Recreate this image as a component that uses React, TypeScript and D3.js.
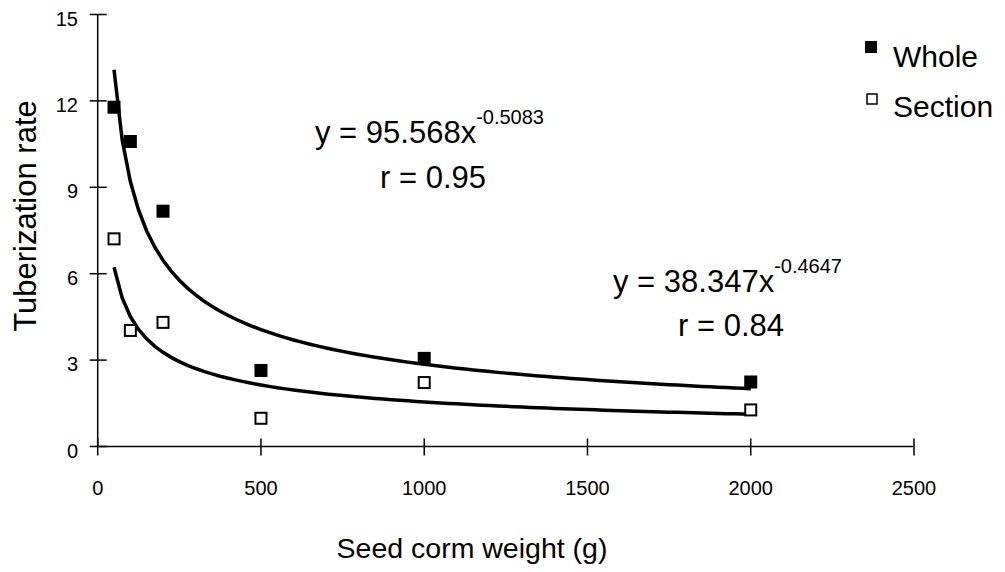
import React, { useEffect, useRef } from 'react';
import * as d3 from 'd3';

// measured points
const weights = [50, 100, 200, 500, 1000, 2000];
const wholeRate = [11.78, 10.59, 8.17, 2.64, 3.06, 2.24];
const sectionRate = [7.21, 4.03, 4.31, 0.98, 2.22, 1.27];

// power trendlines y = a * x^b, as printed on the chart
const wholeFit = { a: 95.568, b: -0.5083, r: '0.95' };
const sectionFit = { a: 38.347, b: -0.4647, r: '0.84' };

const xTicks = [0, 500, 1000, 1500, 2000, 2500];
const yTicks = [0, 3, 6, 9, 12, 15];

const FONT = '"Liberation Sans", Arial, sans-serif';

export default function App() {
  const ref = useRef<SVGSVGElement>(null);

  useEffect(() => {
    if (!ref.current) return;
    const svg = d3.select(ref.current);
    svg.selectAll('*').remove();

    const x = d3.scaleLinear().domain([0, 2500]).range([97.7, 914]);
    const y = d3.scaleLinear().domain([0, 15]).range([446.5, 14.5]);

    // axes
    svg.append('line')
      .attr('x1', x(0)).attr('x2', x(0))
      .attr('y1', y(15)).attr('y2', y(0))
      .attr('stroke', '#000').attr('stroke-width', 1.5);
    svg.append('line')
      .attr('x1', x(0)).attr('x2', x(2500))
      .attr('y1', y(0)).attr('y2', y(0))
      .attr('stroke', '#000').attr('stroke-width', 1.5);

    yTicks.forEach(t => {
      svg.append('line')
        .attr('x1', x(0) - 8).attr('x2', x(0) + 9)
        .attr('y1', y(t)).attr('y2', y(t))
        .attr('stroke', '#000').attr('stroke-width', 1.5);
      svg.append('text')
        .attr('x', 78).attr('y', y(t) + 11)
        .attr('text-anchor', 'end')
        .attr('font-family', FONT).attr('font-size', 20)
        .text(t);
    });

    xTicks.forEach(t => {
      svg.append('line')
        .attr('x1', x(t)).attr('x2', x(t))
        .attr('y1', y(0) - 8).attr('y2', y(0) + 9)
        .attr('stroke', '#000').attr('stroke-width', 1.5);
      svg.append('text')
        .attr('x', x(t)).attr('y', 495)
        .attr('text-anchor', 'middle')
        .attr('font-family', FONT).attr('font-size', 20)
        .text(t);
    });

    // axis titles
    svg.append('text')
      .attr('transform', `translate(36,216) rotate(-90)`)
      .attr('text-anchor', 'middle')
      .attr('font-family', FONT).attr('font-size', 31)
      .text('Tuberization rate');
    svg.append('text')
      .attr('x', 472).attr('y', 558)
      .attr('text-anchor', 'middle')
      .attr('font-family', FONT).attr('font-size', 28.5)
      .text('Seed corm weight (g)');

    // trendlines
    const xs = d3.range(50, 2001, 25);
    const line = d3.line<number[]>().x(d => x(d[0])).y(d => y(d[1]));
    [wholeFit, sectionFit].forEach(f => {
      svg.append('path')
        .attr('d', line(xs.map(v => [v, f.a * Math.pow(v, f.b)])))
        .attr('fill', 'none')
        .attr('stroke', '#000')
        .attr('stroke-width', 3.5);
    });

    // markers
    const s = 13;
    svg.selectAll('.whole')
      .data(weights.map((w, i) => [w, wholeRate[i]]))
      .join('rect')
      .attr('x', d => x(d[0]) - s / 2)
      .attr('y', d => y(d[1]) - s / 2)
      .attr('width', s).attr('height', s)
      .attr('fill', '#000');
    svg.selectAll('.section')
      .data(weights.map((w, i) => [w, sectionRate[i]]))
      .join('rect')
      .attr('x', d => x(d[0]) - s / 2 + 1)
      .attr('y', d => y(d[1]) - s / 2 + 1)
      .attr('width', s - 2).attr('height', s - 2)
      .attr('fill', '#fff')
      .attr('stroke', '#000').attr('stroke-width', 2);

    // equations
    const eq = (ex: number, ey: number, f: typeof wholeFit, rx: number, ry: number) => {
      const t = svg.append('text')
        .attr('x', ex).attr('y', ey)
        .attr('font-family', FONT).attr('font-size', 31);
      t.append('tspan').text(`y = ${f.a}x`);
      t.append('tspan')
        .attr('dy', -19).attr('font-size', 20)
        .text(f.b.toString());
      svg.append('text')
        .attr('x', rx).attr('y', ry)
        .attr('font-family', FONT).attr('font-size', 31)
        .text(`r = ${f.r}`);
    };
    eq(315, 143, wholeFit, 380, 188);
    eq(613, 292, sectionFit, 678, 336);

    // legend
    svg.append('rect')
      .attr('x', 865).attr('y', 41).attr('width', 12).attr('height', 12)
      .attr('fill', '#000');
    svg.append('text')
      .attr('x', 893).attr('y', 67)
      .attr('font-family', FONT).attr('font-size', 30)
      .text('Whole');
    svg.append('rect')
      .attr('x', 867).attr('y', 94).attr('width', 10).attr('height', 10)
      .attr('fill', '#fff').attr('stroke', '#000').attr('stroke-width', 1.5);
    svg.append('text')
      .attr('x', 893).attr('y', 117)
      .attr('font-family', FONT).attr('font-size', 30)
      .text('Section');
  }, []);

  return (
    <svg
      ref={ref}
      width={1005}
      height={572}
      style={{ position: 'absolute', left: 0, top: 0, background: '#fff' }}
    />
  );
}
